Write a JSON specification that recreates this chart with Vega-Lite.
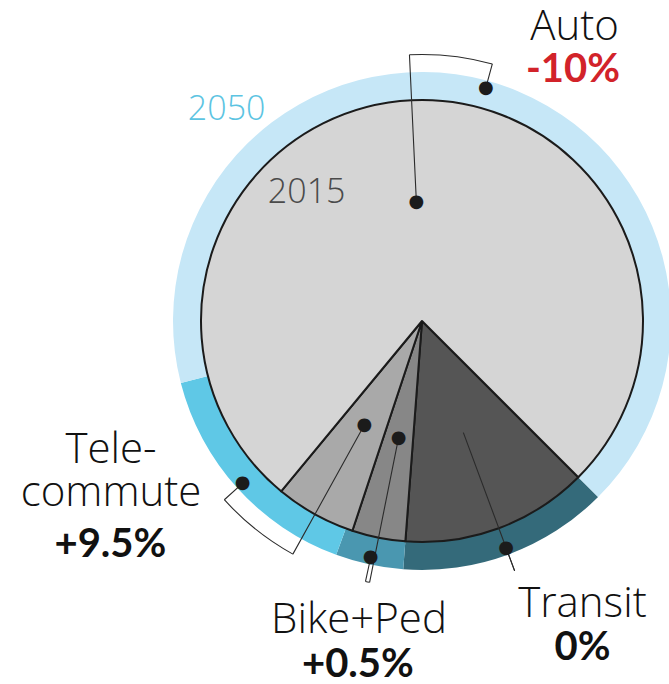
{
  "$schema": "https://vega.github.io/schema/vega-lite/v6.json",
  "width": 494,
  "height": 642,
  "autosize": {"type": "none"},
  "padding": {"left": 175, "top": 0, "right": 0, "bottom": 42},
  "background": "white",
  "config": {"view": {"stroke": null}},
  "datasets": {
    "shares": [
      {"year": "2015", "mode": "Transit", "k": 1, "share": 13.7},
      {"year": "2015", "mode": "Bike+Ped", "k": 2, "share": 3.9},
      {"year": "2015", "mode": "Telecommute", "k": 3, "share": 5.9},
      {"year": "2015", "mode": "Auto", "k": 4, "share": 76.5},
      {"year": "2050", "mode": "Transit", "k": 1, "share": 13.7},
      {"year": "2050", "mode": "Bike+Ped", "k": 2, "share": 4.4},
      {"year": "2050", "mode": "Telecommute", "k": 3, "share": 15.4},
      {"year": "2050", "mode": "Auto", "k": 4, "share": 66.5}
    ],
    "leaders": [
      {"mode": "Transit", "t15": 6.85, "t50": 6.85},
      {"mode": "Bike+Ped", "t15": 15.65, "t50": 15.9},
      {"mode": "Telecommute", "t15": 20.55, "t50": 25.8},
      {"mode": "Auto", "t15": 61.75, "t50": 66.75}
    ]
  },
  "layer": [
    {
      "data": {"name": "shares"},
      "transform": [{"filter": "datum.year === '2050'"}],
      "mark": {"type": "arc", "innerRadius": 221, "outerRadius": 249},
      "encoding": {
        "theta": {"field": "share", "type": "quantitative", "stack": true, "scale": {"domain": [0, 100], "range": [2.35619449, 8.6393798]}},
        "order": {"field": "k", "type": "quantitative"},
        "color": {"field": "mode", "type": "nominal", "legend": null,
          "scale": {"domain": ["Transit", "Bike+Ped", "Telecommute", "Auto"], "range": ["#346a7a", "#4a97b0", "#5fc8e6", "#c6e7f7"]}}
      }
    },
    {
      "data": {"name": "shares"},
      "transform": [{"filter": "datum.year === '2015'"}],
      "mark": {"type": "arc", "outerRadius": 221, "stroke": "#1b1b1b", "strokeWidth": 2, "strokeJoin": "round"},
      "encoding": {
        "theta": {"field": "share", "type": "quantitative", "stack": true},
        "order": {"field": "k", "type": "quantitative"},
        "color": {"field": "mode", "type": "nominal", "legend": null,
          "scale": {"domain": ["Transit", "Bike+Ped", "Telecommute", "Auto"], "range": ["#555555", "#878787", "#a9a9a9", "#d5d5d5"]}}
      }
    },
    {
      "data": {"name": "leaders"},
      "mark": {"type": "arc", "innerRadius": 119, "outerRadius": 266.5, "fill": "transparent", "stroke": "#2b2b2b", "strokeWidth": 1.1},
      "encoding": {
        "theta": {"field": "t15", "type": "quantitative", "stack": null},
        "theta2": {"field": "t15"}
      }
    },
    {
      "data": {"name": "leaders"},
      "mark": {"type": "arc", "innerRadius": 266.5, "outerRadius": 266.5, "fill": "transparent", "stroke": "#2b2b2b", "strokeWidth": 1.1},
      "encoding": {
        "theta": {"field": "t15", "type": "quantitative", "stack": null},
        "theta2": {"field": "t50"}
      }
    },
    {
      "data": {"name": "leaders"},
      "mark": {"type": "arc", "innerRadius": 242, "outerRadius": 266.5, "fill": "transparent", "stroke": "#2b2b2b", "strokeWidth": 1.1},
      "encoding": {
        "theta": {"field": "t50", "type": "quantitative", "stack": null},
        "theta2": {"field": "t50"}
      }
    },
    {
      "data": {"name": "leaders"},
      "transform": [{"filter": "datum.mode !== 'Transit'"}],
      "mark": {"type": "text", "text": "●", "font": "DejaVu Sans", "fontSize": 18, "color": "#1b1b1b", "align": "center", "baseline": "middle", "radius": 119},
      "encoding": {
        "theta": {"field": "t15", "type": "quantitative", "stack": null}
      }
    },
    {
      "data": {"name": "leaders"},
      "mark": {"type": "text", "text": "●", "font": "DejaVu Sans", "fontSize": 18, "color": "#1b1b1b", "align": "center", "baseline": "middle", "radius": 242},
      "encoding": {
        "theta": {"field": "t50", "type": "quantitative", "stack": null}
      }
    },
    {
      "data": {"values": [
        {"name": "Auto", "x": 0.690, "y": 1.2715},
        {"name": "Tele-\ncommute", "x": -1.407, "y": -0.644},
        {"name": "Bike+Ped", "x": -0.285, "y": -1.410},
        {"name": "Transit", "x": 0.726, "y": -1.341}
      ]},
      "mark": {"type": "text", "font": "Open Sans", "fontWeight": 300, "fontSize": 42, "color": "#111111", "align": "center", "baseline": "alphabetic", "lineBreak": "\n", "lineHeight": 43},
      "encoding": {
        "x": {"field": "x", "type": "quantitative", "scale": {"domain": [-1.1176, 1.1176], "nice": false, "zero": false}, "axis": null},
        "y": {"field": "y", "type": "quantitative", "scale": {"domain": [-1.4525, 1.4525], "nice": false, "zero": false}, "axis": null},
        "text": {"field": "name"}
      }
    },
    {
      "data": {"values": [
        {"change": "-10%", "delta": -10, "x": 0.683, "y": 1.083},
        {"change": "+9.5%", "delta": 9.5, "x": -1.410, "y": -1.067},
        {"change": "+0.5%", "delta": 0.5, "x": -0.290, "y": -1.613},
        {"change": "0%", "delta": 0, "x": 0.726, "y": -1.534}
      ]},
      "mark": {"type": "text", "font": "Lato", "fontWeight": "bold", "fontSize": 40, "align": "center", "baseline": "alphabetic"},
      "encoding": {
        "x": {"field": "x", "type": "quantitative", "scale": {"domain": [-1.1176, 1.1176], "nice": false, "zero": false}, "axis": null},
        "y": {"field": "y", "type": "quantitative", "scale": {"domain": [-1.4525, 1.4525], "nice": false, "zero": false}, "axis": null},
        "text": {"field": "change"},
        "color": {"condition": {"test": "datum.delta < 0", "value": "#d2232a"}, "value": "#111111"}
      }
    },
    {
      "data": {"values": [
        {"year": "2050", "x": -0.884, "y": 0.910},
        {"year": "2015", "x": -0.522, "y": 0.533}
      ]},
      "mark": {"type": "text", "font": "Open Sans", "fontWeight": 300, "fontSize": 34, "align": "center", "baseline": "alphabetic"},
      "encoding": {
        "x": {"field": "x", "type": "quantitative", "scale": {"domain": [-1.1176, 1.1176], "nice": false, "zero": false}, "axis": null},
        "y": {"field": "y", "type": "quantitative", "scale": {"domain": [-1.4525, 1.4525], "nice": false, "zero": false}, "axis": null},
        "text": {"field": "year"},
        "color": {"field": "year", "type": "nominal", "legend": null, "scale": {"domain": ["2050", "2015"], "range": ["#5cc4e2", "#4a4a4a"]}}
      }
    }
  ],
  "resolve": {"scale": {"color": "independent"}}
}
